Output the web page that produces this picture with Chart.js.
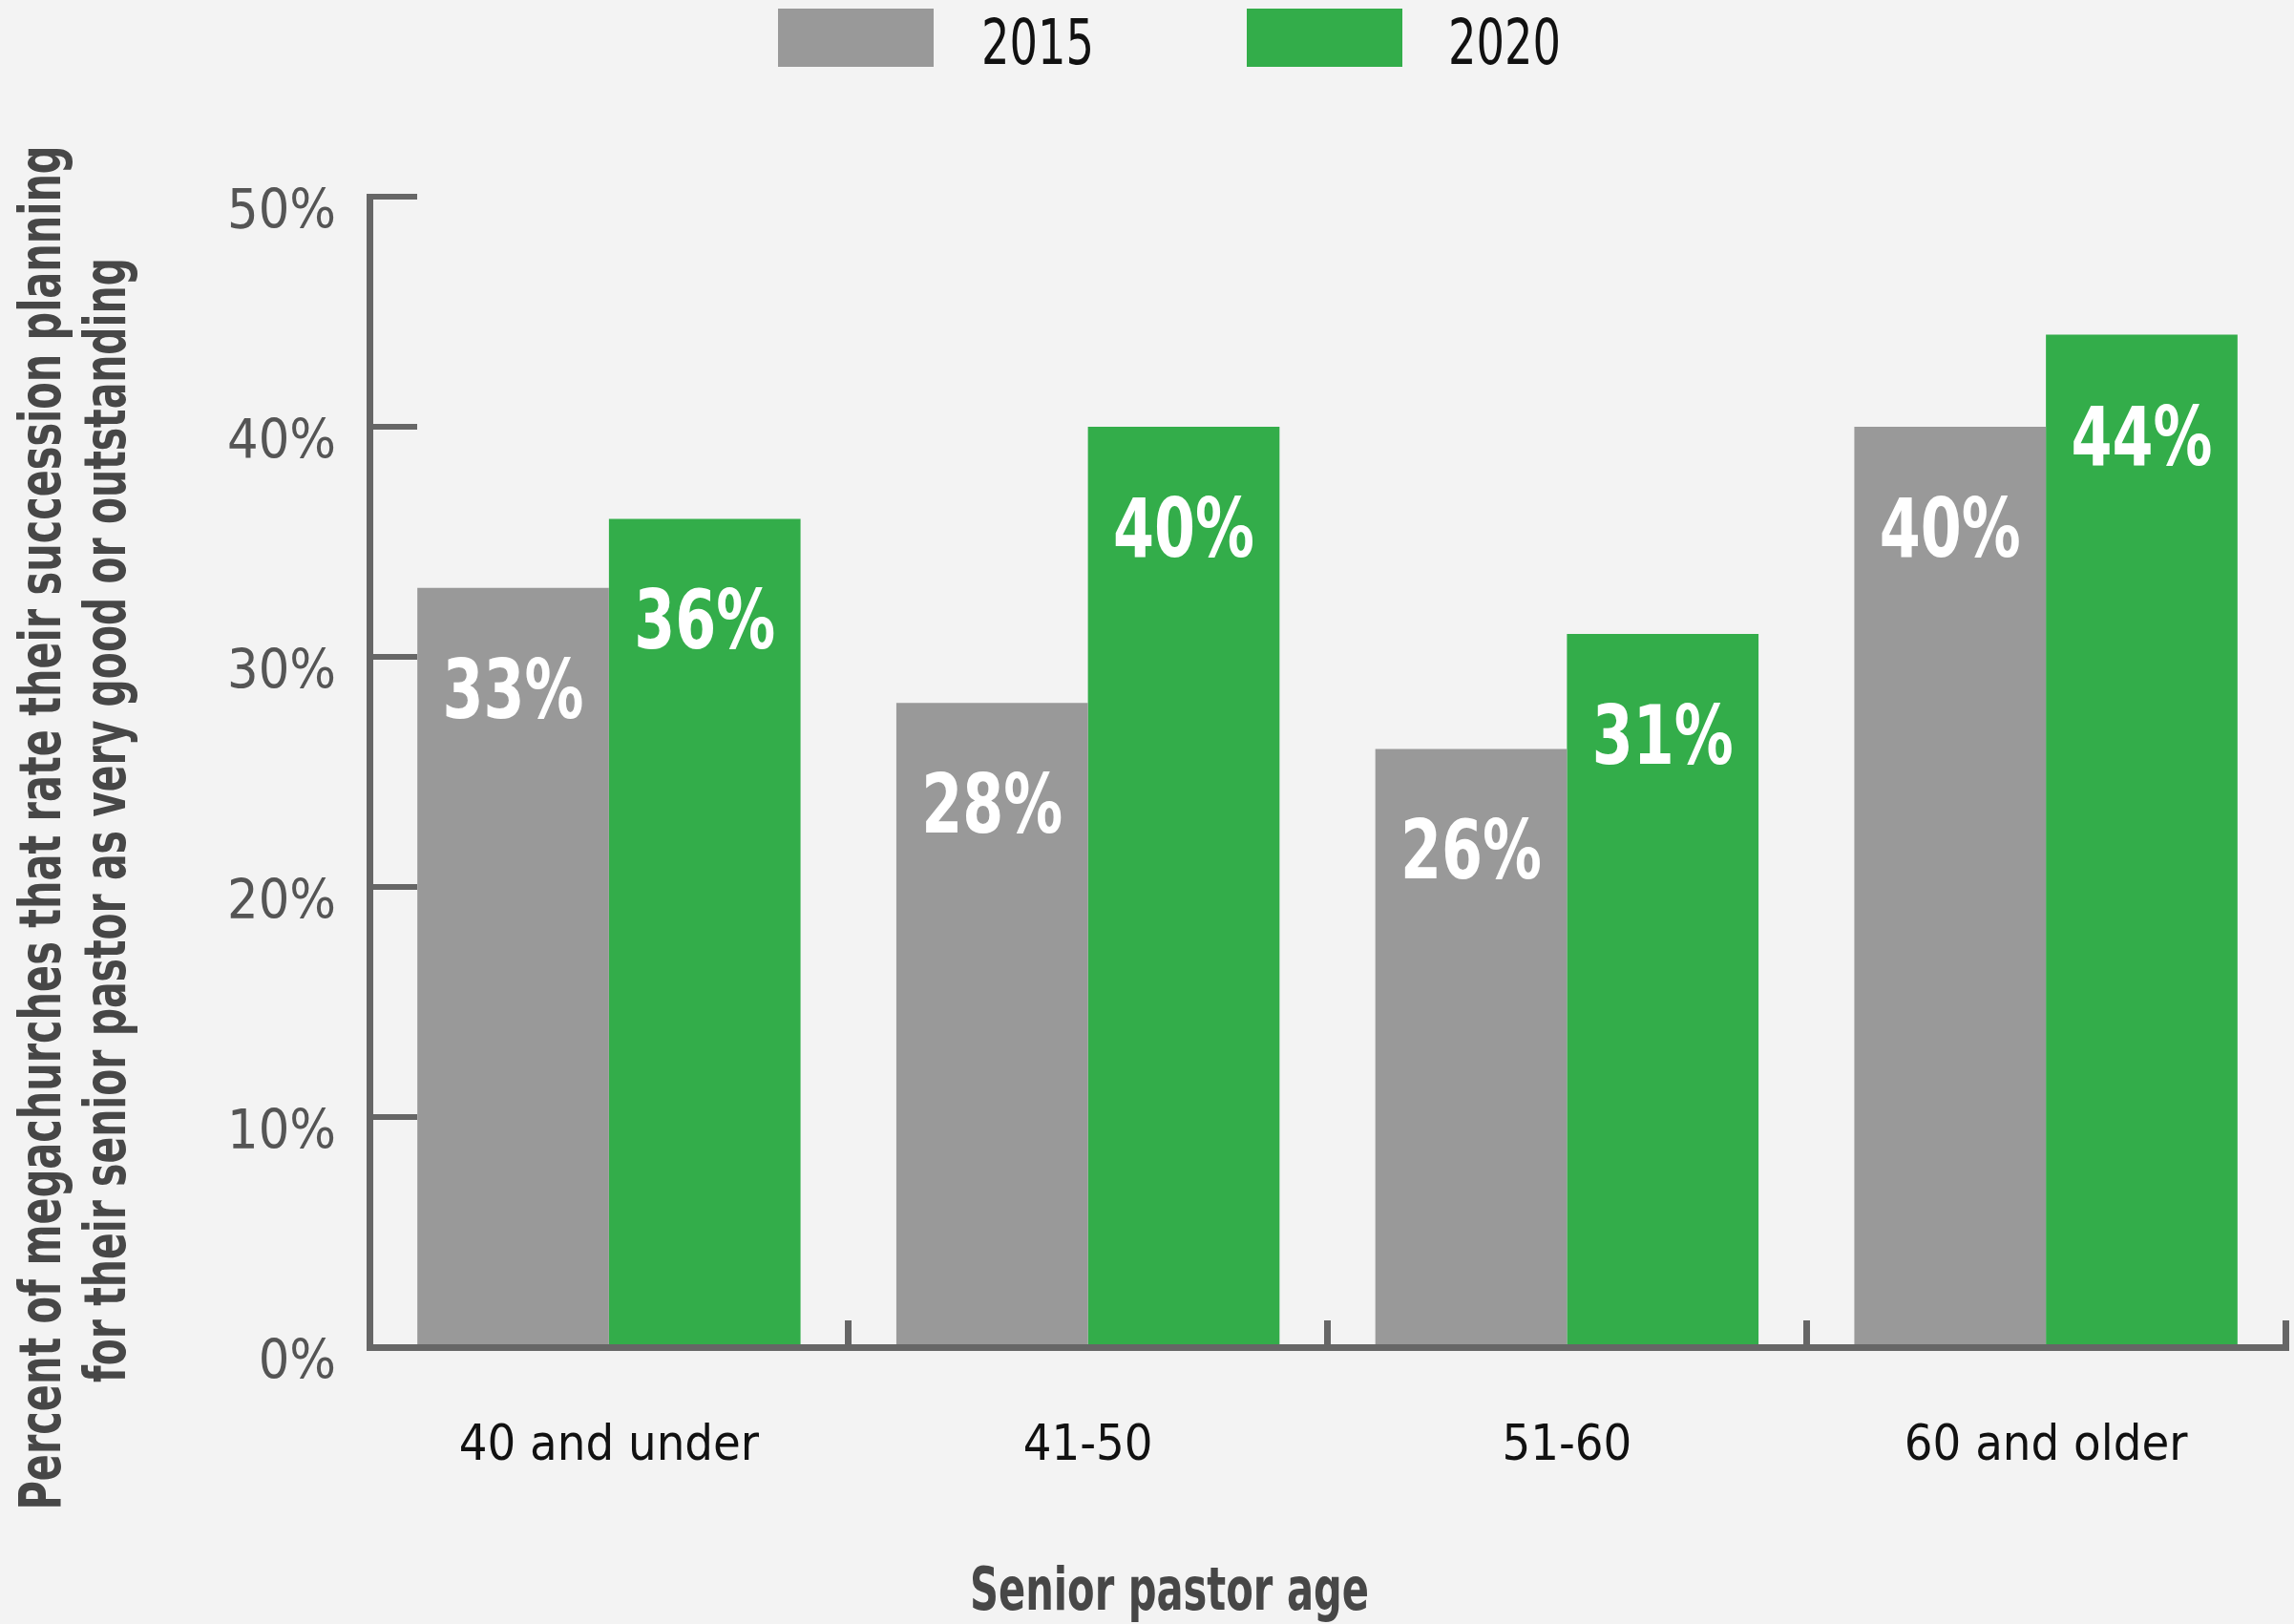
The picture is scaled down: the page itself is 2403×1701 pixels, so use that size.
<!DOCTYPE html>
<html>
<head>
<meta charset="utf-8">
<script src="https://cdn.jsdelivr.net/npm/chart.js@4.4.0/dist/chart.umd.min.js"></script>
<style>
html,body{margin:0;padding:0;background:#f3f3f3;}
#wrap{width:2403px;height:1701px;}
canvas{display:block;}
</style>
</head>
<body>
<div id="wrap"><canvas id="c" width="2403" height="1701"></canvas></div>
<script>
// ---- data ----
const categories = ['40 and under', '41-50', '51-60', '60 and older'];
const seriesNames = ['2015', '2020'];
const values2015 = [33, 28, 26, 40];
const values2020 = [36, 40, 31, 44];
const yTickValues = [0, 10, 20, 30, 40, 50];
const yTitleLines = ['Percent of megachurches that rate their succession planning', 'for their senior pastor as very good or outstanding'];
const xTitle = 'Senior pastor age';

// ---- styles ----
const NARROW = "'Liberation Sans Narrow', 'Arial Narrow', 'DejaVu Sans Condensed', sans-serif";
const GRAY = '#999999';
const GREEN = '#33ad4a';
const AXIS = '#666666';
const BG = '#f3f3f3';

const bgPlugin = {
  id: 'bg',
  beforeDraw(chart) {
    const ctx = chart.ctx;
    ctx.save();
    ctx.fillStyle = BG;
    ctx.fillRect(0, 0, chart.width, chart.height);
    ctx.restore();
  }
};

const valueLabels = {
  id: 'valueLabels',
  afterDatasetsDraw(chart) {
    const ctx = chart.ctx;
    ctx.save();
    ctx.font = 'bold 86px ' + NARROW;
    ctx.fillStyle = '#ffffff';
    ctx.textAlign = 'center';
    ctx.textBaseline = 'alphabetic';
    chart.data.datasets.forEach((ds, i) => {
      const meta = chart.getDatasetMeta(i);
      meta.data.forEach((bar, j) => {
        ctx.fillText(ds.data[j] + '%', bar.x, bar.y + 136, 148);
      });
    });
    ctx.restore();
  }
};

const customLegend = {
  id: 'customLegend',
  afterDraw(chart) {
    const ctx = chart.ctx;
    const slots = [{box: 815, text: 1028}, {box: 1306, text: 1517}];
    ctx.save();
    ctx.font = '66px ' + NARROW;
    ctx.textBaseline = 'alphabetic';
    ctx.textAlign = 'left';
    chart.data.datasets.forEach((ds, i) => {
      const s = slots[i];
      ctx.fillStyle = ds.backgroundColor;
      ctx.fillRect(s.box, 9, 163, 61);
      ctx.fillStyle = '#111111';
      ctx.fillText(ds.label, s.text, 67, 118);
    });
    ctx.restore();
  }
};

const axisTitles = {
  id: 'axisTitles',
  afterDraw(chart) {
    const ctx = chart.ctx;
    ctx.save();
    ctx.fillStyle = '#474747';
    ctx.font = 'bold 62px ' + NARROW;
    ctx.textAlign = 'center';
    ctx.textBaseline = 'alphabetic';
    ctx.fillText(xTitle, 1225, 1686, 418);
    // y title, rotated
    const lines = [
      {x: 63, cy: 867, w: 1429},
      {x: 131, cy: 859, w: 1178}
    ];
    ctx.font = 'bold 60px ' + NARROW;
    yTitleLines.forEach((t, i) => {
      const L = lines[i];
      ctx.save();
      ctx.translate(L.x, L.cy);
      ctx.rotate(-Math.PI / 2);
      ctx.fillText(t, 0, 0, L.w);
      ctx.restore();
    });
    ctx.restore();
  }
};

new Chart(document.getElementById('c'), {
  type: 'bar',
  data: {
    labels: categories,
    datasets: [
      {label: seriesNames[0], data: values2015, backgroundColor: GRAY, borderWidth: 0},
      {label: seriesNames[1], data: values2020, backgroundColor: GREEN, borderWidth: 0}
    ]
  },
  options: {
    responsive: false,
    animation: false,
    devicePixelRatio: 1,
    layout: {padding: {top: 206, right: 9, bottom: 0, left: 0}},
    datasets: {bar: {categoryPercentage: 0.8, barPercentage: 1.0}},
    plugins: {
      legend: {display: false},
      tooltip: {enabled: false},
      title: {display: false}
    },
    scales: {
      x: {
        z: 1,
        offset: true,
        grid: {display: true, drawOnChartArea: false, drawTicks: true, tickLength: -28, color: AXIS, lineWidth: 7, offset: true},
        border: {display: true, color: AXIS, width: 7},
        ticks: {color: '#111111', padding: 101, font: {family: NARROW, size: 52, lineHeight: 1.2}, maxRotation: 0, autoSkip: false},
        afterFit(s) { s.height = 290; }
      },
      y: {
        z: 1,
        min: yTickValues[0],
        max: yTickValues[yTickValues.length - 1],
        afterBuildTicks(s) { s.ticks = yTickValues.map(v => ({value: v})); },
        grid: {display: true, drawOnChartArea: false, drawTicks: true, tickLength: -50, color: AXIS, lineWidth: 6},
        border: {display: true, color: AXIS, width: 7},
        ticks: {color: '#555555', padding: 85, labelOffset: 18, font: {family: NARROW, size: 57}, callback: v => v + '%'},
        afterFit(s) { s.width = 387; }
      }
    }
  },
  plugins: [bgPlugin, valueLabels, customLegend, axisTitles]
});
</script>
</body>
</html>
